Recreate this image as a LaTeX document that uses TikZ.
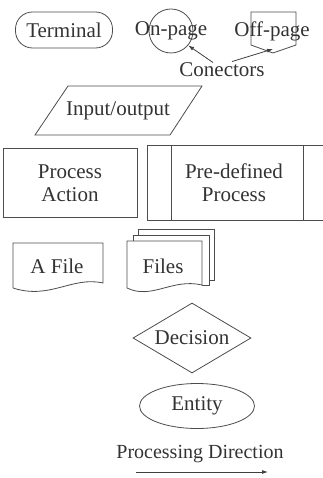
\documentclass[tikz,border=0pt]{standalone}
\usepackage{fontspec}
\setmainfont{Liberation Serif}
\usetikzlibrary{arrows.meta,shapes.geometric}

\begin{document}
\begin{tikzpicture}[x=1pt,y=-1pt,line width=0.8pt,
        shape line/.style={draw=black!70},
        label text/.style={text=black!80,font=\fontsize{21}{23}\selectfont,align=center,inner sep=0pt},
        pointer/.style={draw=black!75,-{Latex[length=6pt,width=4pt]}}]
        \useasboundingbox (0,0) rectangle (323,478);

        % terminal
        \node[shape line,rounded corners=17pt,minimum width=97pt,minimum height=36pt,label text] (terminal) at (64,30) {Terminal};

        % on-page and off-page connectors
        \node[shape line,circle,minimum size=44pt,inner sep=0pt] (onpage) at (171,31) {};
        \node[label text] (onpagetxt) at (171,31) {On-page};
        \draw[shape line] (251,12) -- (296,12) -- (296,45) -- (273,53) -- (251,45) -- cycle;
        \coordinate (offpage) at (273,49);
        \node[label text] (offpagetxt) at (272,31) {Off-page};
        \node[label text] (conectors) at (222,70) {Conectors};
        \draw[pointer] (conectors.north west) ++(34,0) coordinate (c1) (c1) -- (onpage.-40);
        \draw[pointer] (conectors.north) ++(10,-1) coordinate (c2) (c2) -- (offpage);

        % input/output
        \draw[shape line] (68,86) -- (202,86) -- (170,135) -- (35,135) -- cycle;
        \node[label text] (inout) at (118,111) {Input/output};

        % process action
        \node[shape line,minimum width=134pt,minimum height=69pt,label text] (process) at (70,183) {Process\\Action};

        % pre-defined process
        \draw[shape line] (330,145) -- (147,145) -- (147,220) -- (330,220);
        \draw[shape line] (171,145) -- (171,220);
        \draw[shape line] (303,145) -- (303,220);
        \node[label text] (predef) at (234,183) {Pre-defined\\Process};

        % a file
        \draw[shape line] (13,288) -- (13,243) -- (103,243) -- (103,283)
            .. controls (72,276) and (50,300) .. (13,288);
        \node[label text] (afile) at (57,266) {A File};

        % files
        \draw[shape line] (138,235) -- (138,229) -- (214,229) -- (214,280) -- (209,280);
        \draw[shape line] (133,241) -- (133,235) -- (209,235) -- (209,285) -- (202,285);
        \draw[shape line] (127,288) -- (127,241) -- (202,241) -- (202,285)
            .. controls (172,278) and (152,300) .. (127,288);
        \node[label text] (files) at (163,266) {Files};

        % decision
        \node[shape line,diamond,minimum width=118pt,minimum height=70pt,inner sep=0pt] (decision) at (192,338) {};
        \node[label text] (decisiontxt) at (192,338) {Decision};

        % entity
        \node[shape line,ellipse,minimum width=115pt,minimum height=45pt,label text] (entity) at (197,406) {Entity};

        % processing direction
        \node[label text,font=\fontsize{20}{22}\selectfont] (direction) at (200,454) {Processing Direction};
        \coordinate (dstart) at (136,472);
        \coordinate (dend) at (268,472);
        \draw[pointer] (dstart) -- (dend);
    \end{tikzpicture}
\end{document}
